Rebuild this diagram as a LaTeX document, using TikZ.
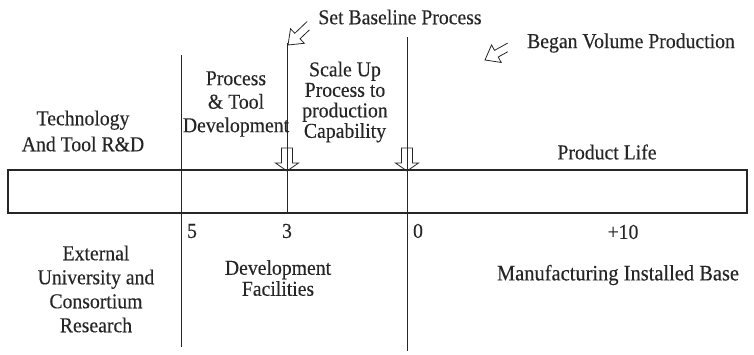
\documentclass[tikz,border=0pt]{standalone}
\usepackage{fontspec}
\setmainfont{Liberation Serif}[FakeStretch=0.93,FakeBold=0.25]
\begin{document}
\begin{tikzpicture}[x=1pt,y=-1pt,
  every node/.style={inner sep=0pt,outer sep=0pt,text=black!85},
  lbl/.style={align=center,font=\fontsize{21.2}{23.5}\selectfont},
  rule/.style={line width=0.9pt,black!85},
  bar/.style={line width=1.1pt,black!85},
  hollow/.style={line width=0.8pt,black!85,line join=miter}]
  % canvas
  \useasboundingbox (0,0) rectangle (754,354);

  % time bar
  \draw[bar] (8,170) rectangle (747,213);

  % phase separators
  \coordinate (sepA top) at (181,55);
  \coordinate (sepA bot) at (181,347);
  \coordinate (sepB top) at (287,43);
  \coordinate (sepB bot) at (287,213);
  \coordinate (sepC top) at (407,37);
  \coordinate (sepC bot) at (407,351);
  \draw[rule] (sepA top) -- (sepA bot);
  \draw[rule] (sepB top) -- (sepB bot);
  \draw[rule] (sepC top) -- (sepC bot);

  % hollow down markers on the bar
  \foreach \cx in {287,407}{
    \draw[hollow] (\cx,171) -- (\cx-11.5,163) -- (\cx-5.5,163) -- (\cx-5.5,148)
      -- (\cx+5.5,148) -- (\cx+5.5,163) -- (\cx+11.5,163) -- cycle;
  }

  % open-tailed pointer arrows
  \coordinate (baseTip) at (288,45);
  \coordinate (volTip) at (485,60);
  \begin{scope}[shift={(baseTip)},rotate=223.6]
    \draw[hollow] (-30,3.8) -- (-13,3.8) -- (-13,10) -- (0,0) -- (-13,-10) -- (-13,-3.8) -- (-26,-3.8);
  \end{scope}
  \begin{scope}[shift={(volTip)},rotate=209]
    \draw[hollow] (-28,3.8) -- (-13,3.8) -- (-13,10) -- (0,0) -- (-13,-10) -- (-13,-3.8) -- (-24,-3.8);
  \end{scope}

  % labels above the bar
  \node[lbl] (setbase) at (400,17) {Set Baseline Process};
  \node[lbl] (volprod) at (631,43) {Began Volume Production};
  \node[lbl,font=\fontsize{21.2}{26}\selectfont] (techrd) at (83,131) {Technology\\And Tool R\&D};
  \node[lbl,font=\fontsize{21.2}{23.5}\selectfont] (ptdev) at (236,104) {Process\\\& Tool\\Development};
  \node[lbl,font=\fontsize{21.2}{20.5}\selectfont] (scaleup) at (345,102) {Scale Up\\Process to\\production\\Capability};
  \node[lbl] (plife) at (607,152) {Product Life};

  % year marks
  \node[lbl] (y5) at (192,231) {5};
  \node[lbl] (y3) at (287,231) {3};
  \node[lbl] (y0) at (418,231) {0};
  \node[lbl] (y10) at (623,232) {+10};

  % labels below the bar
  \node[lbl,font=\fontsize{21.2}{24}\selectfont] (extres) at (96,289) {External\\University and\\Consortium\\Research};
  \node[lbl,font=\fontsize{21.2}{21}\selectfont] (devfac) at (278,278) {Development\\Facilities};
  \node[lbl,font=\fontsize{22}{24}\selectfont] (mfgbase) at (618,275) {Manufacturing Installed Base};
\end{tikzpicture}
\end{document}
